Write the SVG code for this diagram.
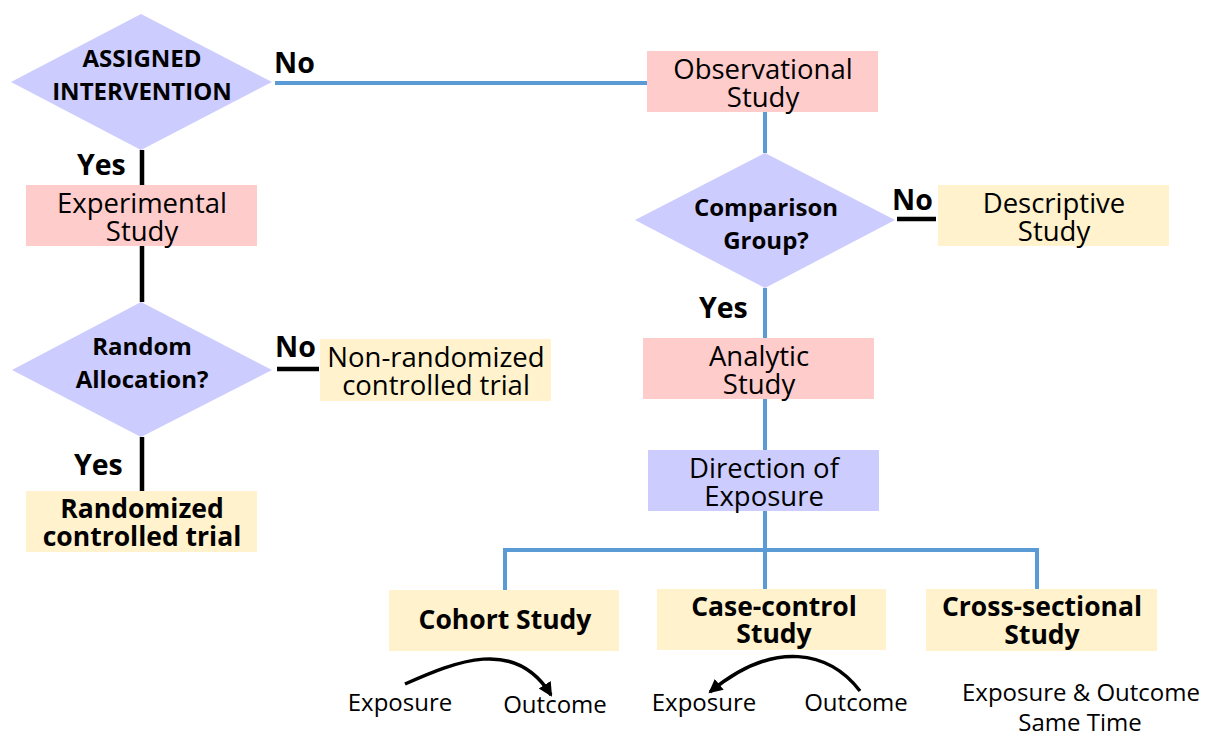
<svg xmlns="http://www.w3.org/2000/svg" width="1205" height="736" viewBox="0 0 1205 736">
<defs>
<style>
.pink{fill:#FFCCCC}
.yel{fill:#FFF2CC}
.lav{fill:#CCCCFF}
.t{font-family:"Open Sans","Noto Sans",sans-serif;fill:#000;text-anchor:middle}
.n{font-size:27.5px;font-weight:400}
.b{font-size:26.5px;font-weight:700}
.d{font-size:24px;font-weight:700}
.lbl{font-family:"Open Sans","Noto Sans",sans-serif;font-size:28.5px;font-weight:700;fill:#000}
.s{font-size:24px;font-weight:400}
.blue{stroke:#5B9BD5;stroke-width:4;fill:none}
.blk{stroke:#000;stroke-width:4.5;fill:none}
.arc{stroke:#000;stroke-width:3.5;fill:none;marker-end:url(#ah)}
</style>
<marker id="ah" markerUnits="userSpaceOnUse" markerWidth="16" markerHeight="16" refX="12" refY="7" orient="auto">
<path d="M0,0 L14,7 L0,14 z" fill="#000"/>
</marker>
</defs>
<rect width="1205" height="736" fill="#fff"/>
<g id="connectors">
<path class="blue" d="M275,83 H648"/>
<path class="blue" d="M765,112 V153 M765,288 V338 M765,399 V450 M765,511 V590"/>
<path class="blue" d="M505,590 V550 H1037 V590"/>
<path class="blk" d="M142,150 V185 M142,246 V302 M142,437 V491"/>
<path class="blk" d="M897,219 H936 M277,369 H319"/>
<path class="arc" d="M405,684 C455,662 515,636 551,695"/>
<path class="arc" d="M860,691 C830,652 775,638 710,692"/>
</g>
<g id="labels">
<text class="lbl" x="274" y="73">No</text>
<text class="lbl" x="77" y="175">Yes</text>
<text class="lbl" x="892" y="210">No</text>
<text class="lbl" x="699" y="318">Yes</text>
<text class="lbl" x="275" y="357">No</text>
<text class="lbl" x="74" y="475">Yes</text>
</g>
<g id="assigned">
<polygon class="lav" points="141,14 272,82 141,150 11,82"/>
<text class="t d"><tspan x="142" y="67">ASSIGNED</tspan><tspan x="142" y="100">INTERVENTION</tspan></text>
</g>
<g id="experimental">
<rect class="pink" x="26" y="185" width="231" height="61"/>
<text class="t n"><tspan x="142" y="213">Experimental</tspan><tspan x="142" y="241">Study</tspan></text>
</g>
<g id="random">
<polygon class="lav" points="141,302 272,370 141,437 12,370"/>
<text class="t d"><tspan x="142" y="355">Random</tspan><tspan x="142" y="388">Allocation?</tspan></text>
</g>
<g id="nonrandomized">
<rect class="yel" x="320" y="339" width="231" height="62"/>
<text class="t n"><tspan x="436" y="367">Non-randomized</tspan><tspan x="436" y="395">controlled trial</tspan></text>
</g>
<g id="rct">
<rect class="yel" x="26" y="491" width="231" height="61"/>
<text class="t b"><tspan x="142" y="518">Randomized</tspan><tspan x="142" y="546">controlled trial</tspan></text>
</g>
<g id="observational">
<rect class="pink" x="647" y="51" width="231" height="61"/>
<text class="t n"><tspan x="763" y="79">Observational</tspan><tspan x="763" y="107">Study</tspan></text>
</g>
<g id="comparison">
<polygon class="lav" points="765,153 895,220 765,288 635,220"/>
<text class="t d"><tspan x="766" y="216">Comparison</tspan><tspan x="766" y="249">Group?</tspan></text>
</g>
<g id="descriptive">
<rect class="yel" x="938" y="185" width="231" height="61"/>
<text class="t n"><tspan x="1054" y="213">Descriptive</tspan><tspan x="1054" y="241">Study</tspan></text>
</g>
<g id="analytic">
<rect class="pink" x="643" y="338" width="231" height="61"/>
<text class="t n"><tspan x="759" y="366">Analytic</tspan><tspan x="759" y="394">Study</tspan></text>
</g>
<g id="direction">
<rect class="lav" x="648" y="450" width="231" height="61"/>
<text class="t n"><tspan x="764" y="478">Direction of</tspan><tspan x="764" y="506">Exposure</tspan></text>
</g>
<g id="cohort">
<rect class="yel" x="389" y="590" width="230" height="61"/>
<text class="t b" x="505" y="629">Cohort Study</text>
</g>
<g id="casecontrol">
<rect class="yel" x="657" y="589" width="229" height="61"/>
<text class="t b"><tspan x="774" y="616">Case-control</tspan><tspan x="774" y="643">Study</tspan></text>
</g>
<g id="crosssectional">
<rect class="yel" x="926" y="589" width="231" height="62"/>
<text class="t b"><tspan x="1042" y="616">Cross-sectional</tspan><tspan x="1042" y="644">Study</tspan></text>
</g>
<g id="notes">
<text class="t s" x="400" y="711">Exposure</text>
<text class="t s" x="555" y="713">Outcome</text>
<text class="t s" x="704" y="711">Exposure</text>
<text class="t s" x="856" y="711">Outcome</text>
<text class="t s"><tspan x="1081" y="701">Exposure &amp; Outcome</tspan><tspan x="1080" y="731">Same Time</tspan></text>
</g>
</svg>
